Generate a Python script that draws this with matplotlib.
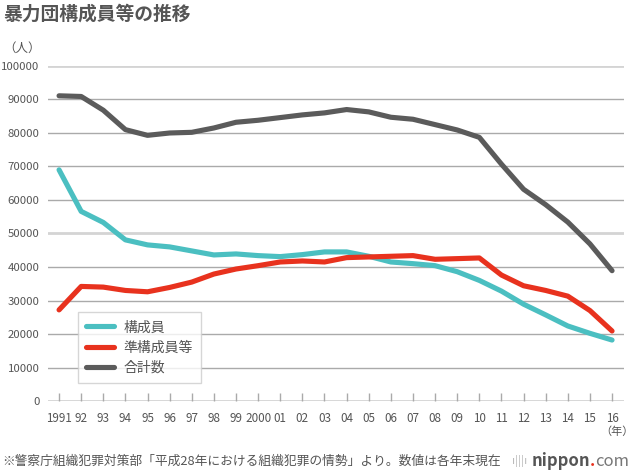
import matplotlib
matplotlib.use("Agg")
import matplotlib.pyplot as plt

plt.rcParams["font.family"] = ["Noto Sans CJK JP", "DejaVu Sans"]

# 暴力団構成員等の推移（各年末現在、単位：人）
years = list(range(1991, 2017))
year_labels = ["1991", "92", "93", "94", "95", "96", "97", "98", "99", "2000",
               "01", "02", "03", "04", "05", "06", "07", "08", "09", "10",
               "11", "12", "13", "14", "15", "16"]
members = [69000, 56600, 53300, 48100, 46600, 46000, 44800, 43600, 43900, 43400,
           43100, 43700, 44500, 44500, 43200, 41500, 41000, 40400, 38600, 36000,
           32800, 28900, 25700, 22400, 20200, 18200]
associates = [27200, 34200, 34000, 33000, 32600, 33900, 35500, 37900, 39400, 40400,
              41500, 41800, 41500, 42800, 43000, 43200, 43400, 42300, 42500, 42700,
              37600, 34400, 33000, 31300, 27000, 20900]
total = [91100, 90900, 86800, 81000, 79300, 80000, 80200, 81500, 83200, 83800,
         84600, 85400, 86000, 87000, 86300, 84700, 84100, 82500, 80900, 78700,
         70700, 63200, 58600, 53400, 46900, 38900]
series = [("構成員", members, "#4bbfc1"),
          ("準構成員等", associates, "#e8321e"),
          ("合計数", total, "#5b5b5b")]
yticks = list(range(0, 100001, 10000))

TEXT = "#555555"

fig = plt.figure(figsize=(6.4, 4.72), dpi=100)
ax = fig.add_axes([0.075, 0.1504, 0.9, 0.7098])

for v in yticks:
    if v % 50000 == 0:
        ax.axhline(v, color="#d4d4d4", lw=2.0, zorder=1)
    else:
        ax.axhline(v, color="#aaaaaa", lw=1.0, zorder=1)

for label, vals, color in series:
    ax.plot(years, vals, color=color, lw=3.7, label=label,
            solid_capstyle="round", solid_joinstyle="round", clip_on=False, zorder=3)

ax.set_xlim(1990.5, 2016.54)
ax.set_ylim(0, 100000)
for s in ax.spines.values():
    s.set_visible(False)

ax.set_yticks(yticks)
ax.set_yticklabels([str(v) for v in yticks])
ax.tick_params(axis="y", length=0, pad=6, labelsize=8.2, labelcolor=TEXT)
ax.set_xticks(years)
ax.set_xticklabels(year_labels)
ax.tick_params(axis="x", direction="in", length=6, width=1, color="#aaaaaa",
               pad=8, labelsize=8.4, labelcolor=TEXT)

leg = ax.legend(loc="upper left", bbox_to_anchor=(0.122, 0.339),
                bbox_transform=fig.transFigure, borderaxespad=0,
                fontsize=10, handlelength=2.0, handletextpad=0.65,
                labelspacing=0.45, borderpad=0.6, fancybox=False)
leg.get_frame().set_edgecolor("#cccccc")
leg.get_frame().set_linewidth(1.0)
for t in leg.get_texts():
    t.set_color(TEXT)

fig.text(0.005, 0.971, "暴力団構成員等の推移", fontsize=13.5, fontweight="bold",
         color=TEXT, ha="left", va="center")
fig.text(0.005, 0.898, "（人）", fontsize=9, color=TEXT, ha="left", va="center")
fig.text(0.99, 0.085, "（年）", fontsize=8, color=TEXT, ha="right", va="center")
fig.text(0.004, 0.023, "※警察庁組織犯罪対策部「平成28年における組織犯罪の情勢」より。数値は各年末現在",
         fontsize=9.2, color=TEXT, ha="left", va="center")

# nippon.com ロゴ
fig.text(0.80, 0.023, "ı|||ı", fontsize=8, color="#bbbbbb", ha="left", va="center")
t1 = fig.text(0.83, 0.023, "nippon", fontsize=12, fontweight="bold", color="#555555",
              ha="left", va="center")
fig.canvas.draw()
r = fig.canvas.get_renderer()
x1 = t1.get_window_extent(renderer=r).x1 / fig.bbox.width
t2 = fig.text(x1, 0.023, ".", fontsize=12, fontweight="bold", color="#e8321e",
              ha="left", va="center")
x2 = t2.get_window_extent(renderer=r).x1 / fig.bbox.width
fig.text(x2, 0.023, "com", fontsize=12, color="#777777", ha="left", va="center")

fig.savefig("out.png", dpi=100)
